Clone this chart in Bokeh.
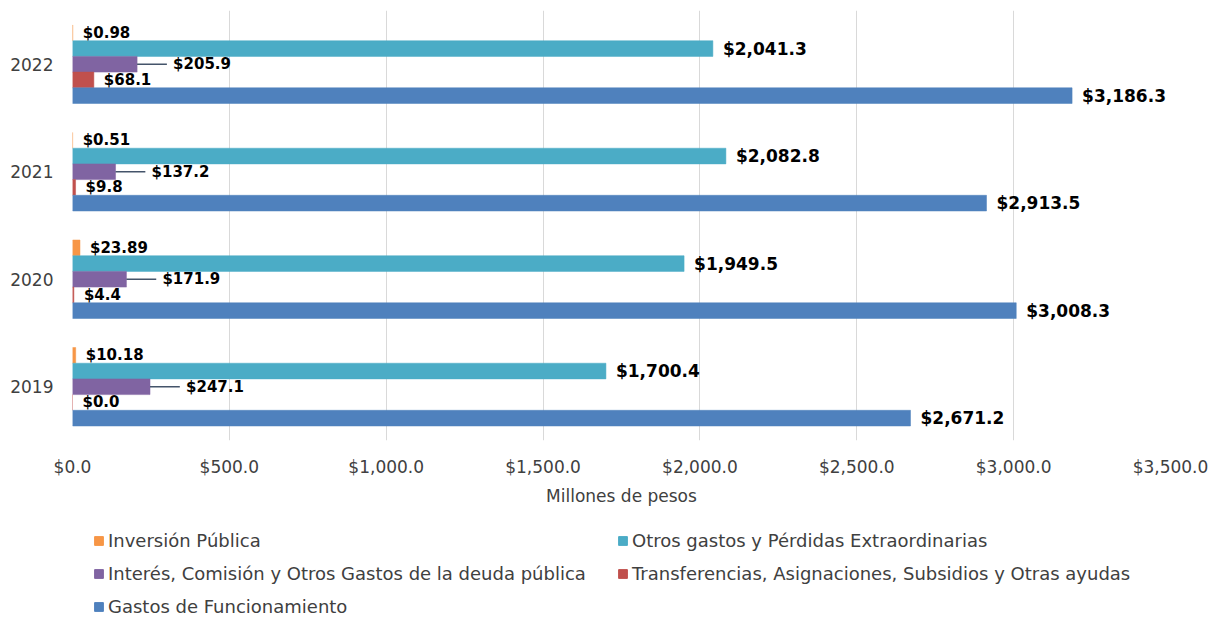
from bokeh.plotting import figure
from bokeh.layouts import column
from bokeh.models import (ColumnDataSource, FactorRange, Range1d, Legend, LegendItem,
                          NumeralTickFormatter, SingleIntervalTicker)
from bokeh.transform import dodge
from bokeh.core.properties import value
from bokeh.embed import file_html
from bokeh.resources import INLINE

# ---- data ----
years = ["2019", "2020", "2021", "2022"]
inversion = [10.18, 23.89, 0.51, 0.98]
otros = [1700.4, 1949.5, 2082.8, 2041.3]
interes = [247.1, 171.9, 137.2, 205.9]
transferencias = [0.0, 4.4, 9.8, 68.1]
gastos = [2671.2, 3008.3, 2913.5, 3186.3]

series_names = [
    "Inversión Pública",
    "Otros gastos y Pérdidas Extraordinarias",
    "Interés, Comisión y Otros Gastos de la deuda pública",
    "Transferencias, Asignaciones, Subsidios y Otras ayudas",
    "Gastos de Funcionamiento",
]
x_ticks_interval = 500
x_max = 3500
x_title = "Millones de pesos"

FONT = "DejaVu Sans"
TXT = "#404040"
colors = ["#F79646", "#4BACC6", "#8064A2", "#C0504D", "#4F81BD"]

src = ColumnDataSource(dict(
    year=years,
    inv=inversion, otr=otros, inte=interes, tra=transferencias, gas=gastos,
    inv_l=[f"${v:,.2f}" for v in inversion],
    otr_l=[f"${v:,.1f}" for v in otros],
    inte_l=[f"${v:,.1f}" for v in interes],
    tra_l=[f"${v:,.1f}" for v in transferencias],
    gas_l=[f"${v:,.1f}" for v in gastos],
))

p = figure(width=1212, height=510, y_range=FactorRange(*years), x_range=Range1d(0, x_max),
           output_backend="svg", toolbar_location=None,
           min_border_left=72, min_border_right=42, min_border_top=10, min_border_bottom=70)
p.outline_line_color = None
p.background_fill_color = "white"
p.ygrid.grid_line_color = None
p.xgrid.grid_line_color = "#D9D9D9"
p.xgrid.grid_line_width = 1

p.xaxis.ticker = SingleIntervalTicker(interval=x_ticks_interval)
p.xaxis.formatter = NumeralTickFormatter(format="$0,0.0")
p.xaxis.axis_line_color = None
p.xaxis.major_tick_line_color = None
p.xaxis.minor_tick_line_color = None
p.xaxis.major_label_standoff = 10
p.xaxis.major_label_text_font = FONT
p.xaxis.major_label_text_font_size = "17px"
p.xaxis.major_label_text_color = TXT
p.xaxis.axis_label = x_title
p.xaxis.axis_label_text_font = FONT
p.xaxis.axis_label_text_font_style = "normal"
p.xaxis.axis_label_text_font_size = "17px"
p.xaxis.axis_label_text_color = TXT
p.xaxis.axis_label_standoff = 6

p.yaxis.axis_line_color = None
p.yaxis.major_tick_line_color = None
p.yaxis.minor_tick_line_color = None
p.yaxis.major_label_standoff = 13
p.yaxis.major_label_text_font = FONT
p.yaxis.major_label_text_font_size = "17px"
p.yaxis.major_label_text_color = TXT

bh = 0.146
offsets = [2 * bh, bh, 0.0, -bh, -2 * bh]
cols = ["inv", "otr", "inte", "tra", "gas"]

for col, off, c in zip(cols, offsets, colors):
    p.hbar(y=dodge("year", off, range=p.y_range), left=0, right=col, height=bh,
           source=src, fill_color=c, line_color=c, line_width=0.5)

def add_labels(col, off, size, x_off):
    p.text(x=col, y=dodge("year", off, range=p.y_range), text=col + "_l", source=src,
           x_offset=x_off, text_align="left", text_baseline="middle",
           text_font=value(FONT), text_font_style="bold", text_font_size=size,
           text_color="#000000")

add_labels("inv", offsets[0], "15px", 10)
add_labels("otr", offsets[1], "17px", 10)
add_labels("tra", offsets[3], "15px", 10)
add_labels("gas", offsets[4], "17px", 10)

# leader lines for interest labels
p.segment(x0="inte", x1=dodge("inte", 95), y0=dodge("year", offsets[2], range=p.y_range),
          y1=dodge("year", offsets[2], range=p.y_range), source=src,
          line_color="#44546A", line_width=1.5)
add_labels("inte", offsets[2], "15px", 36)

# ---- legend panel (legend swatches only; their dummy marks lie off-range) ----
pl = figure(width=1212, height=107, x_range=Range1d(0, 1), y_range=Range1d(0, 1),
            output_backend="svg", toolbar_location=None, min_border=0)
pl.outline_line_color = None
pl.axis.visible = False
pl.grid.grid_line_color = None
dummies = [pl.quad(left=[-3], right=[-2], top=[-2], bottom=[-3], fill_color=c, line_color=c)
           for c in colors]
legend = Legend(items=[LegendItem(label=n, renderers=[r]) for n, r in zip(series_names, dummies)],
                orientation="horizontal", ncols=2, location=(21, 0),
                glyph_width=11, glyph_height=11, label_standoff=4,
                label_text_font=FONT, label_text_font_size="18px", label_text_color=TXT,
                label_height=18, label_width=497, spacing=12, padding=0, margin=0,
                border_line_color=None, background_fill_alpha=0)
pl.add_layout(legend, "center")

open("out.html", "w").write(file_html(column(p, pl, spacing=0), INLINE))
